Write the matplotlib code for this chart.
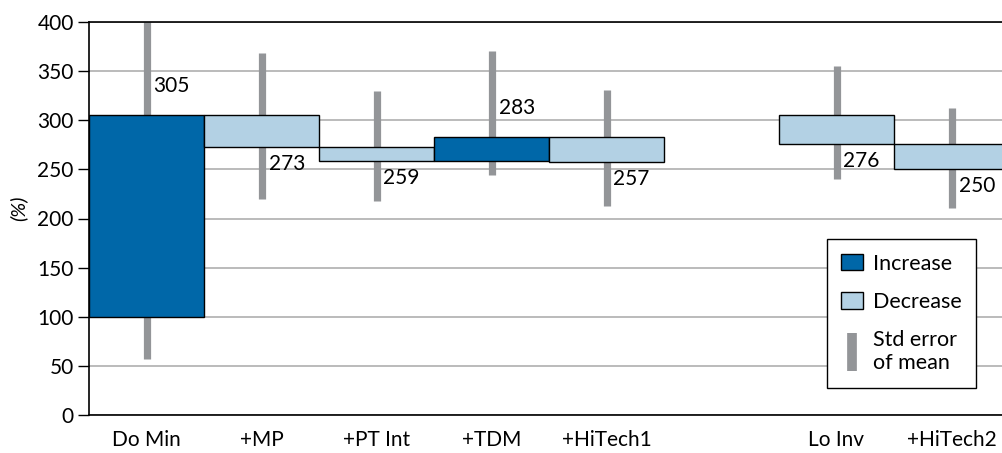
import matplotlib
matplotlib.use("Agg")
import matplotlib.pyplot as plt
from matplotlib.patches import Patch
from matplotlib.lines import Line2D

plt.rcParams['font.family'] = ['Lato', 'DejaVu Sans']

# data
categories = ['Do Min', '+MP', '+PT Int', '+TDM', '+HiTech1', 'Lo Inv', '+HiTech2']
slots = [0, 1, 2, 3, 4, 6, 7]            # empty slot between the two groups
values = [305, 273, 259, 283, 257, 276, 250]
base = 100
prev = [None, 0, 1, 2, 3, 0, 5]          # which bar each step starts from
err_low = [57, 220, 218, 244, 213, 240, 211]
err_high = [553, 368, 330, 370, 331, 355, 312]

dark = '#0067a8'
light = '#b3d1e4'
grey = '#939598'
fs = 15

fig = plt.figure(figsize=(10.02, 4.53), dpi=100)
ax = fig.add_axes([89 / 1002, 38 / 453, 913 / 1002, 393 / 453])

starts = [base if p is None else values[p] for p in prev]

# error bars first, so the boxes sit on top
ax.vlines(slots, err_low, err_high, color=grey, lw=5.2, zorder=2)

for x, s, v in zip(slots, starts, values):
    col = dark if v > s else light
    ax.bar(x, v - s, bottom=s, width=1.0, color=col, edgecolor='black',
           linewidth=1.0, zorder=3)
    if v > s:
        ax.annotate(str(v), (x, v), xytext=(7, 29), textcoords='offset pixels',
                    ha='left', va='center', fontsize=fs, zorder=4)
    else:
        ax.annotate(str(v), (x, v), xytext=(7, -17), textcoords='offset pixels',
                    ha='left', va='center', fontsize=fs, zorder=4)

ax.set_xlim(-0.5, -0.5 + 913 / 115)
ax.set_ylim(0, 400)
ax.set_yticks(range(0, 401, 50))
ax.set_xticks(slots)
ax.set_xticklabels(categories)
ax.tick_params(axis='x', length=0, pad=11, labelsize=fs)
ax.tick_params(axis='y', length=8, width=1, pad=3, labelsize=fs)
ax.yaxis.grid(True, color='#b5b5b5', lw=1.3, zorder=0)
ax.set_axisbelow(True)
for side in ['left', 'bottom', 'top']:
    ax.spines[side].set_color('black')
    ax.spines[side].set_linewidth(1.2)
ax.spines['right'].set_visible(False)

ax.set_ylabel('(%)', fontstyle='italic', fontsize=14.5)
ax.yaxis.set_label_coords(-0.068, 0.527)

handles = [
    Patch(facecolor=dark, edgecolor='black', lw=1),
    Patch(facecolor=light, edgecolor='black', lw=1),
    Line2D([], [], color=grey, marker='|', markersize=27, mew=7, ls='none'),
]
leg = ax.legend(handles, ['Increase', 'Decrease', 'Std error\nof mean'],
                loc='upper left', bbox_to_anchor=(0.808, 0.448),
                borderaxespad=0, fontsize=15.5, frameon=True, fancybox=False,
                framealpha=1, edgecolor='black', handlelength=1.0,
                handleheight=0.8, handletextpad=0.45, labelspacing=0.85,
                borderpad=0.68)
leg.get_frame().set_linewidth(1.0)
leg.set_zorder(5)

fig.savefig('out.png', dpi=100)
